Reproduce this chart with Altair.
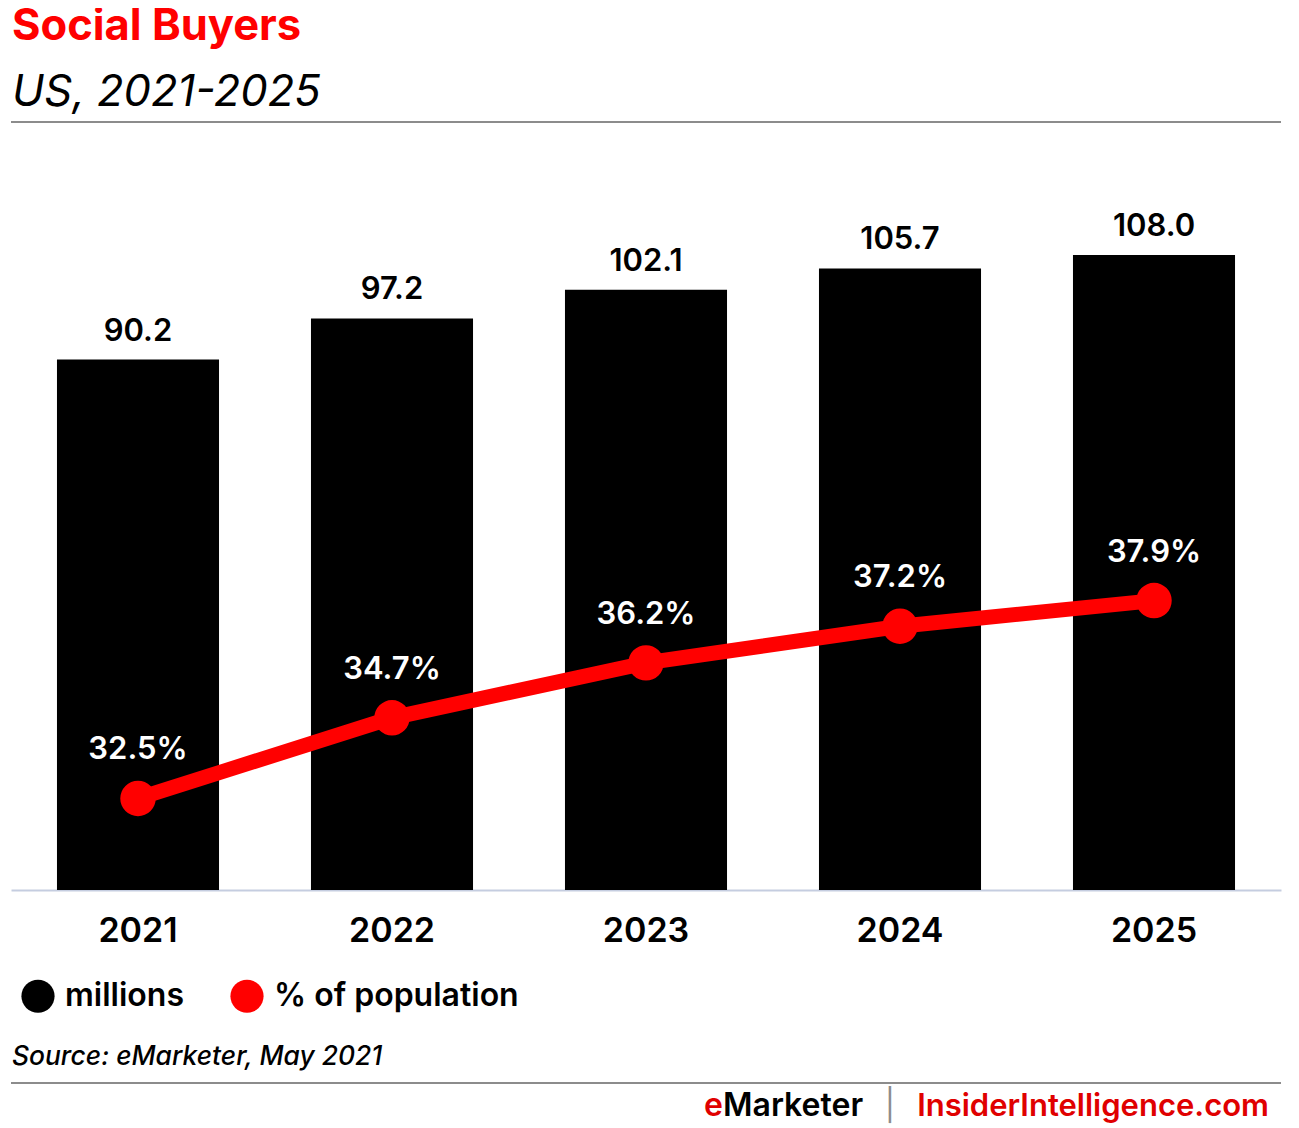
import altair as alt
import pandas as pd

years = ["2021", "2022", "2023", "2024", "2025"]
millions = [90.2, 97.2, 102.1, 105.7, 108.0]
pct = [32.5, 34.7, 36.2, 37.2, 37.9]
series_names = ["millions", "% of population"]
series_colors = ["#000000", "#ff0000"]

title_text = "Social Buyers"
subtitle_text = "US, 2021-2025"
source_text = "Source: eMarketer, May 2021"

df = pd.DataFrame({"year": years, "millions": millions, "pct": pct})

FONT = "Inter"
W, H = 1270, 740

x_enc = alt.X(
    "year:N",
    title=None,
    sort=years,
    scale=alt.Scale(paddingInner=0.362, paddingOuter=0.181),
    axis=alt.Axis(
        labelAngle=0, labelFont=FONT, labelFontSize=34, labelFontWeight=600,
        labelColor="#000000", ticks=False, grid=False, labelPadding=24,
        domainColor="#c5cde0", domainWidth=2,
    ),
)
scale_m = alt.Scale(domain=[0, 125.85], nice=False, zero=True)
scale_p = alt.Scale(domain=[30, 50.2], nice=False, zero=False)
y_m = alt.Y("millions:Q", scale=scale_m, axis=None)
y_p = alt.Y("pct:Q", scale=scale_p, axis=None)

color_scale = alt.Scale(domain=series_names, range=series_colors)
legend = alt.Legend(
    orient="none", legendX=10, legendY=829, direction="horizontal", title=None,
    symbolType="circle", symbolSize=1100, symbolStrokeWidth=0, symbolOpacity=1,
    labelFont=FONT, labelFontSize=32, labelFontWeight=600, labelColor="#000000",
    labelOffset=10, columnPadding=46, padding=0, labelLimit=400,
)

base = alt.Chart(df).encode(x=x_enc)

bars = base.transform_calculate(series="'millions'").mark_bar().encode(
    y=y_m, color=alt.Color("series:N", scale=color_scale, legend=legend)
)
bar_labels = base.mark_text(
    font=FONT, fontSize=31, fontWeight=600, color="#000000",
    baseline="alphabetic", dy=-19,
).encode(y=y_m, text=alt.Text("millions:Q", format=".1f"))

line = base.mark_line(color="#ff0000", strokeWidth=15).encode(y=y_p)
points = base.transform_calculate(series="'% of population'").mark_circle(
    size=1257, opacity=1
).encode(y=y_p, color=alt.Color("series:N", scale=color_scale, legend=legend))
pct_labels = base.transform_calculate(
    label="format(datum.pct, '.1f') + '%'"
).mark_text(
    font=FONT, fontSize=31, fontWeight=600, color="#ffffff",
    baseline="alphabetic", dy=-39,
).encode(y=y_p, text="label:N")


def deco_text(txt, x, y, **kw):
    return alt.Chart(pd.DataFrame({"t": [txt]})).mark_text(**kw).encode(
        text="t:N", x=alt.value(x), y=alt.value(y)
    )


def deco_rule(y, color):
    return alt.Chart(pd.DataFrame({"r": [0]})).mark_rule(
        color=color, strokeWidth=2
    ).encode(x=alt.value(0), x2=alt.value(W), y=alt.value(y))


title = deco_text(title_text, 1, -110, font=FONT, fontSize=43.5, fontWeight="bold",
                  color="#ff0000", align="left", baseline="alphabetic")
subtitle = deco_text(subtitle_text, 1, -44, font=FONT, fontSize=43.5, fontStyle="italic",
                     fontWeight=400, color="#000000", align="left", baseline="alphabetic")
top_rule = deco_rule(-28, "#8c8c8c")
source = deco_text(source_text, 1, 915, font=FONT, fontSize=26.4, fontStyle="italic",
                   fontWeight=500, color="#000000", align="left", baseline="alphabetic")
bottom_rule = deco_rule(933, "#8c8c8c")
foot_e = deco_text("e", 693, 966, font=FONT, fontSize=32, fontWeight=600,
                   color="#e00000", align="left", baseline="alphabetic")
foot_m = deco_text("Marketer", 712, 966, font=FONT, fontSize=32, fontWeight=600,
                   color="#000000", align="left", baseline="alphabetic")
foot_bar = deco_text("|", 879, 966, font=FONT, fontSize=31, fontWeight=400,
                     color="#8c8c8c", align="center", baseline="alphabetic")
foot_ii = deco_text("InsiderIntelligence.com", 1258, 966, font=FONT, fontSize=31,
                    fontWeight=600, color="#e00000", align="right", baseline="alphabetic")

chart = alt.layer(
    bars, bar_labels, line, points, pct_labels,
    title, subtitle, top_rule, source, bottom_rule,
    foot_e, foot_m, foot_bar, foot_ii,
).resolve_scale(y="independent").properties(
    width=W, height=H,
    padding={"left": 3, "top": 142, "right": 10, "bottom": 235},
    autosize=alt.AutoSizeParams(type="none"),
    background="#ffffff",
).configure_view(strokeWidth=0)

chart.save("out.html", embed_options={"renderer": "svg", "actions": False})
